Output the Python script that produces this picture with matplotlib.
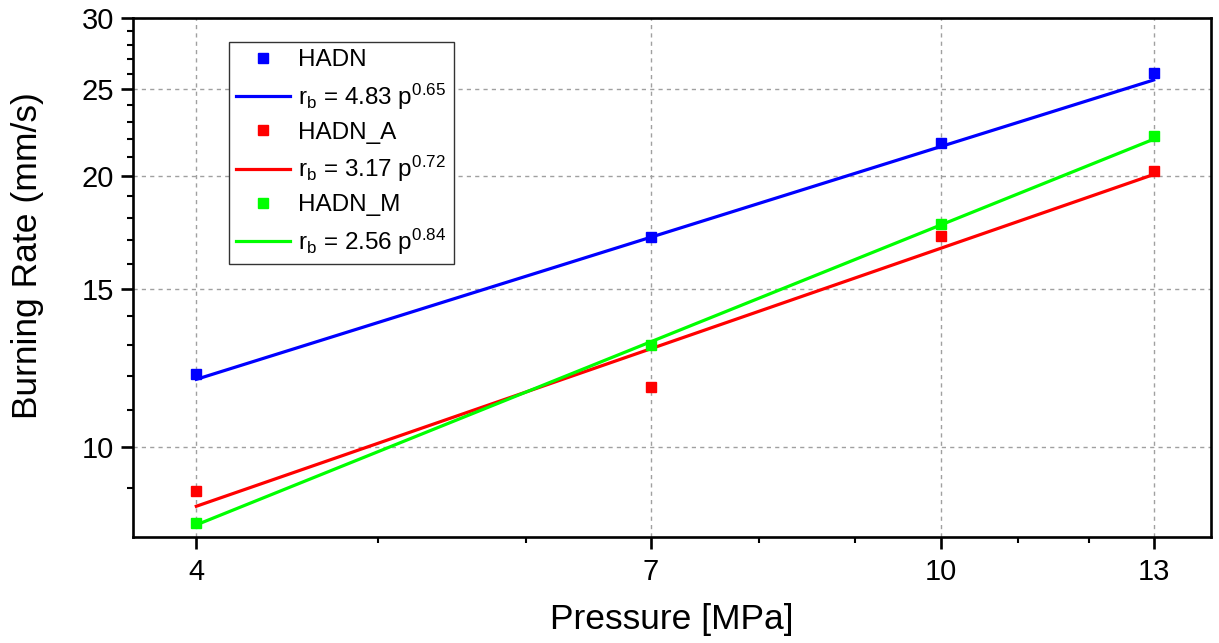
import matplotlib
matplotlib.use("Agg")
import matplotlib.pyplot as plt
from matplotlib.lines import Line2D
from matplotlib.ticker import FixedLocator, NullFormatter, FixedFormatter

plt.rcParams["font.family"] = ["Liberation Sans", "DejaVu Sans"]
plt.rcParams["mathtext.default"] = "regular"

# measured data
pressure = [4, 7, 10, 13]
hadn = [12.06, 17.13, 21.78, 26.06]
hadn_a = [8.94, 11.66, 17.17, 20.28]
hadn_m = [8.23, 12.99, 17.71, 22.2]

# fit lines (end values)
fit_x = [4, 13]
hadn_fit = [11.9, 25.6]
hadn_a_fit = [8.6, 20.1]
hadn_m_fit = [8.2, 22.0]

fit_labels = [r"$r_b$ = 4.83 p$^{0.65}$",
              r"$r_b$ = 3.17 p$^{0.72}$",
              r"$r_b$ = 2.56 p$^{0.84}$"]

x_major = [4, 7, 10, 13]
x_minor = [5, 6, 8, 9, 11, 12]
y_major = [10, 15, 20, 25, 30]
y_minor = [9, 11, 12, 13, 14, 16, 17, 18, 19, 21, 22, 23, 24, 26, 27, 28, 29]

fig = plt.figure(figsize=(12.19, 6.43), dpi=100)
ax = fig.add_axes([0.1091, 0.1649, 0.8843, 0.8071])

series = [
    ("HADN", hadn, hadn_fit, "#0000ff", fit_labels[0]),
    ("HADN_A", hadn_a, hadn_a_fit, "#ff0000", fit_labels[1]),
    ("HADN_M", hadn_m, hadn_m_fit, "#00ff00", fit_labels[2]),
]

handles = []
for name, vals, fit, color, flabel in series:
    ax.plot(fit_x, fit, color=color, lw=2.3, zorder=3)
    ax.plot(pressure, vals, linestyle="none", marker="s", markersize=7.5,
            color=color, zorder=4)
    handles.append(Line2D([0], [0], linestyle="none", marker="s",
                          markersize=7.5, color=color, label=name))
    handles.append(Line2D([0], [0], color=color, lw=2.3, label=flabel))

ax.set_xscale("log")
ax.set_yscale("log")
ax.set_xlim(3.7, 13.95)
ax.set_ylim(7.95, 30)

ax.xaxis.set_major_locator(FixedLocator(x_major))
ax.xaxis.set_major_formatter(FixedFormatter([str(v) for v in x_major]))
ax.xaxis.set_minor_locator(FixedLocator(x_minor))
ax.xaxis.set_minor_formatter(NullFormatter())
ax.yaxis.set_major_locator(FixedLocator(y_major))
ax.yaxis.set_major_formatter(FixedFormatter([str(v) for v in y_major]))
ax.yaxis.set_minor_locator(FixedLocator(y_minor))
ax.yaxis.set_minor_formatter(NullFormatter())

ax.grid(True, which="major", color="#a0a0a0", linestyle=(0, (3, 3)), lw=1.0)

for s in ax.spines.values():
    s.set_linewidth(1.9)
ax.tick_params(which="major", direction="out", length=8.5, width=1.9,
               labelsize=21)
ax.tick_params(which="minor", direction="out", length=4.5, width=1.5)
ax.tick_params(axis="x", which="major", pad=7)
ax.tick_params(axis="y", which="major", pad=5)

ax.set_xlabel("Pressure [MPa]", fontsize=25.5, labelpad=12)
ax.set_ylabel("Burning Rate (mm/s)", fontsize=25.5)
ax.yaxis.set_label_coords(-0.083, 0.543)

leg = ax.legend(handles=handles, loc="upper left", bbox_to_anchor=(0.089, 0.954),
                borderaxespad=0, fontsize=17.5, frameon=True, fancybox=False,
                edgecolor="#333333", framealpha=1, handlelength=2.2,
                labelspacing=0.42, borderpad=0.3, handletextpad=0.35)
leg.get_frame().set_linewidth(1.0)

fig.savefig("out.png", dpi=100)
